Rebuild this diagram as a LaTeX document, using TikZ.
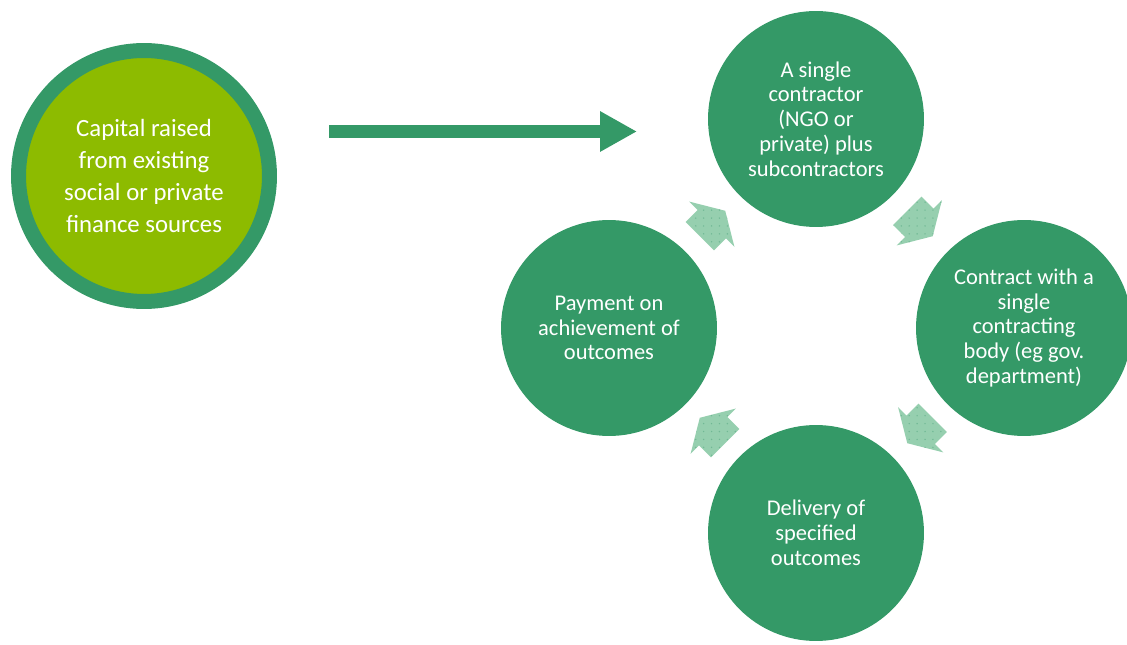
\documentclass[tikz,border=0pt]{standalone}
\usepackage{fontspec}
\setmainfont{Carlito}
\usetikzlibrary{calc, arrows.meta, patterns.meta}
\definecolor{sibGreen}{RGB}{52, 153, 103}
\definecolor{sibLime}{RGB}{141, 187, 0}
\definecolor{sibMint}{RGB}{150, 207, 175}

\begin{document}
\begin{tikzpicture}[x=0.02cm, y=-0.02cm,
    stage/.style={circle, fill=sibGreen, minimum size=4.32cm, inner sep=0pt,
      text=white, align=center, font=\fontsize{12.8}{14.1}\selectfont},
    turn/.style={preaction={fill=sibMint}, pattern={Dots[distance=4.5pt, radius=0.45pt]},
      pattern color=sibGreen!70}]
  \useasboundingbox (0, 0) rectangle (1127, 645);
  \clip (0, 0) rectangle (1127, 645);

  % source of the capital
  \node[circle, fill=sibLime, draw=sibGreen, line width=0.3cm, minimum size=5.02cm,
    inner sep=0pt, text=white, align=center, font=\fontsize{14.1}{18.2}\selectfont]
    (capital) at (144, 176) {Capital raised\\from existing\\social or private\\finance sources};

  \coordinate (feedS) at (329, 131.5);
  \coordinate (feedE) at (637, 131.5);
  \draw[sibGreen, line width=0.26cm, -{Triangle[length=0.74cm, width=0.76cm]}] (feedS) -- (feedE);

  % the cycle
  \node[stage] (top) at (816, 119) {A single\\contractor\\(NGO or\\private) plus\\subcontractors};
  \node[stage] (rgt) at (1024, 328) {Contract with a\\single\\contracting\\body (eg gov.\\department)};
  \node[stage] (btm) at (816, 533) {Delivery of\\specified\\outcomes};
  \node[stage] (lft) at (609, 328) {Payment on\\achievement of\\outcomes};

  % short block arrows between the stages
  \foreach \a/\b/\ang in {top/rgt/-45, rgt/btm/-135, btm/lft/135, lft/top/45} {
    \coordinate (turn-\a) at ($(\a)!0.5!(\b)$);
    \path[turn, shift={(turn-\a)}, rotate=\ang]
      (-18, -20) -- (-1, -20) -- (-1, -32) -- (18, 0) -- (-1, 32) -- (-1, 20) -- (-18, 20) -- cycle;
  }
\end{tikzpicture}
\end{document}
